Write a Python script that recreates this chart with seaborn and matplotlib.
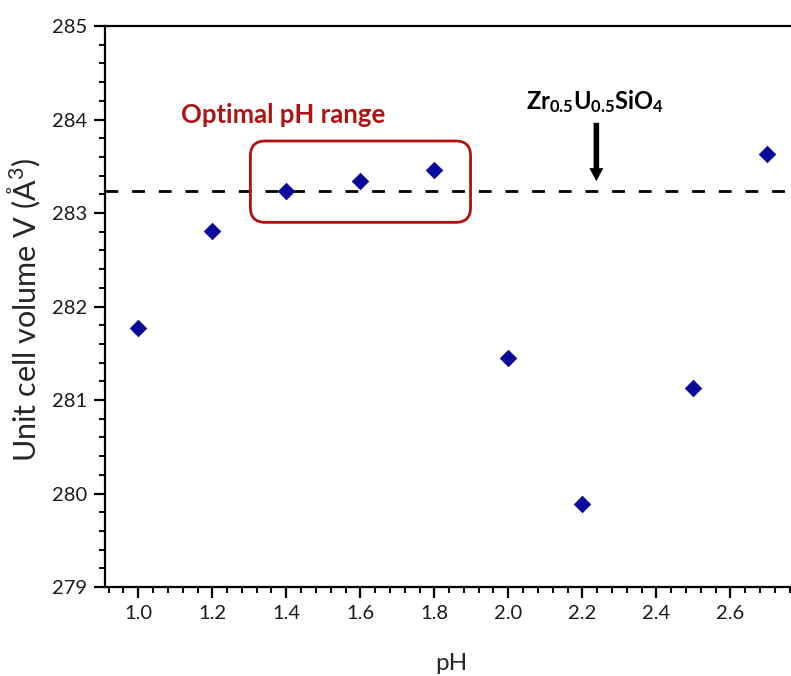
import matplotlib
matplotlib.use("Agg")
import matplotlib.pyplot as plt
import seaborn as sns
import pandas as pd
from matplotlib.patches import FancyBboxPatch
from matplotlib.ticker import MultipleLocator

# ---- data ----
ph = [1.0, 1.2, 1.4, 1.6, 1.8, 2.0, 2.2, 2.5, 2.7]
volume = [281.77, 282.81, 283.23, 283.34, 283.46, 281.45, 279.89, 281.13, 283.63]
reference_volume = 283.24
x_ticks = [1.0, 1.2, 1.4, 1.6, 1.8, 2.0, 2.2, 2.4, 2.6]
y_ticks = [279, 280, 281, 282, 283, 284, 285]
optimal_range = (1.303, 1.898)
optimal_box_y = (282.90, 283.77)

sns.set_style("white")
plt.rcParams['font.family'] = ['Lato', 'DejaVu Sans']
plt.rcParams['mathtext.fontset'] = 'custom'
plt.rcParams['mathtext.rm'] = 'Lato'
plt.rcParams['mathtext.it'] = 'Lato:italic'
plt.rcParams['mathtext.bf'] = 'Lato:bold'

df = pd.DataFrame({"pH": ph, "V": volume})

fig = plt.figure(figsize=(7.91, 6.76), dpi=100)
ax = fig.add_axes([105/791, 1-587/676, 1-105/791, (587-26)/676])

sns.scatterplot(data=df, x="pH", y="V", marker="D", s=80, color="#0a0a9c",
                linewidth=0, ax=ax, zorder=5)

ax.axhline(reference_volume, color="black", lw=2.0, linestyle=(0, (4.6, 5.0)), zorder=2)

ax.set_xlim(0.91, 0.91 + (791-105)/370)
ax.set_ylim(279, 285)
ax.set_xticks(x_ticks)
ax.set_xticklabels([f"{v:.1f}" for v in x_ticks])
ax.set_yticks(y_ticks)
ax.xaxis.set_minor_locator(MultipleLocator(0.04))
ax.yaxis.set_minor_locator(MultipleLocator(0.2))

for side in ["left", "bottom", "top"]:
    ax.spines[side].set_linewidth(1.6)
    ax.spines[side].set_color("black")
ax.spines["right"].set_visible(False)

ax.tick_params(axis="both", which="major", direction="out", length=8, width=1.6,
               labelsize=14.5, color="black", labelcolor="#1a1a1a", pad=5,
               bottom=True, left=True, top=False, right=False)
ax.tick_params(axis="both", which="minor", direction="out", length=4.5, width=1.4,
               bottom=True, left=True, top=False, right=False, color="black")

ax.set_xlabel("pH", fontsize=17.5)
ax.set_ylabel("Unit cell volume V (Å$^3$)", fontsize=22)
ax.xaxis.set_label_coords(0.505, -0.118)
ax.yaxis.set_label_coords(-0.091, 0.493)

# optimal pH range box
w = optimal_range[1] - optimal_range[0]
h = optimal_box_y[1] - optimal_box_y[0]
box = FancyBboxPatch((optimal_range[0], optimal_box_y[0]), w, h,
                     boxstyle="round,pad=0,rounding_size=0.04",
                     mutation_aspect=370/93.4,
                     fill=False, edgecolor="#b01212", lw=2.0, zorder=3)
ax.add_patch(box)
ax.text(1.392, 283.967, "Optimal pH range", color="#b01212", fontsize=18.5,
        fontweight="bold", ha="center", va="baseline")

# reference composition annotation
ax.text(2.234, 284.106, r"$\mathbf{Zr_{0.5}U_{0.5}SiO_4}$", fontsize=17,
        ha="center", va="baseline", color="black")
ax.annotate("", xy=(2.238, 283.34), xytext=(2.238, 283.965),
            arrowprops=dict(arrowstyle="simple,head_length=0.47,head_width=0.5,tail_width=0.2",
                            mutation_scale=20, fc="black", ec="none", lw=0,
                            shrinkA=0, shrinkB=0))

fig.savefig("out.png", dpi=100)
